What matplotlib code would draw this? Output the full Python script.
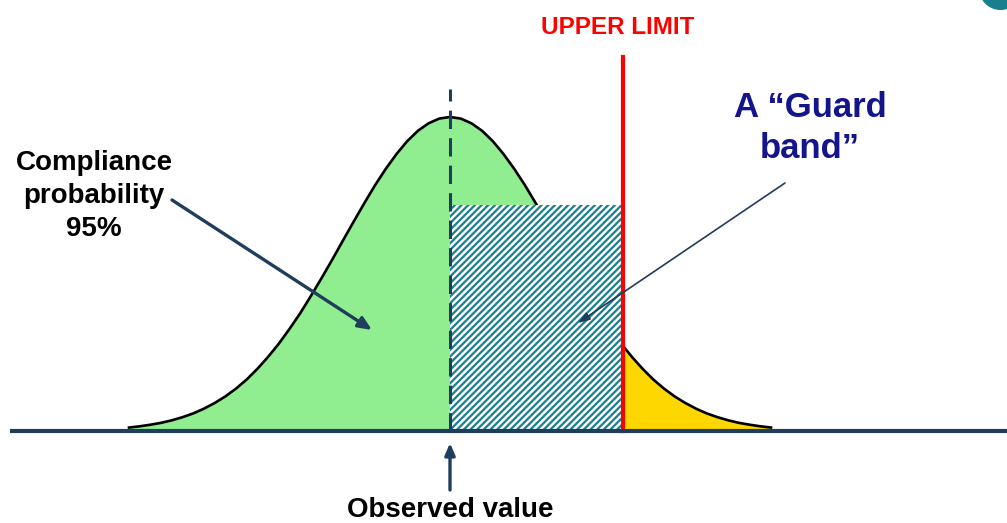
import matplotlib
matplotlib.use('Agg')
import matplotlib.pyplot as plt
from matplotlib.patches import Rectangle

plt.rcParams['font.family'] = ['Liberation Sans', 'DejaVu Sans']
plt.rcParams['hatch.linewidth'] = 1.6

# curve: position in sigma units, height relative to peak
z = [-3.0, -2.9, -2.8, -2.7, -2.6, -2.5, -2.4, -2.3, -2.2, -2.1, -2.0,
     -1.9, -1.8, -1.7, -1.6, -1.5, -1.4, -1.3, -1.2, -1.1, -1.0,
     -0.9, -0.8, -0.7, -0.6, -0.5, -0.4, -0.3, -0.2, -0.1, 0.0,
     0.1, 0.2, 0.3, 0.4, 0.5, 0.6, 0.7, 0.8, 0.9, 1.0,
     1.1, 1.2, 1.3, 1.4, 1.5, 1.6, 1.7, 1.8, 1.9, 2.0,
     2.1, 2.2, 2.3, 2.4, 2.5, 2.6, 2.7, 2.8, 2.9, 3.0]
density = [0.011, 0.015, 0.020, 0.026, 0.034, 0.044, 0.056, 0.071, 0.089,
           0.110, 0.135, 0.164, 0.198, 0.236, 0.278, 0.325, 0.375, 0.430,
           0.487, 0.546, 0.607, 0.667, 0.726, 0.783, 0.835, 0.882, 0.923,
           0.956, 0.980, 0.995, 1.000, 0.995, 0.980, 0.956, 0.923, 0.882,
           0.835, 0.783, 0.726, 0.667, 0.607, 0.546, 0.487, 0.430, 0.375,
           0.325, 0.278, 0.236, 0.198, 0.164, 0.135, 0.110, 0.089, 0.071,
           0.056, 0.044, 0.034, 0.026, 0.020, 0.015, 0.011]
observed = 0.0
upper_limit = 1.62
guard_height = 0.72
dashed_top = 1.09
limit_top = 1.19

navy = '#1f3d5c'
teal = '#1a7f8c'

W, H = 1007, 523
sigma_px, peak_px = 107, 314
fig = plt.figure(figsize=(W / 100, H / 100), dpi=100)
ax = fig.add_axes([0, 0, 1, 1])
ax.set_xlim(-450 / sigma_px, 557 / sigma_px)
ax.set_ylim(-92 / peak_px, 431 / peak_px)
ax.axis('off')

# green body, yellow tail beyond the limit
ax.fill_between(z, 0, density, color='#90ee90', lw=0, zorder=1)
tail = ax.fill_between(z, 0, density, color='#ffd700', lw=0, zorder=2)
clip = Rectangle((upper_limit, -1), 10, 5, transform=ax.transData)
tail.set_clip_path(clip)
ax.plot(z, density, color='black', lw=1.9, zorder=3)

# guard band
ax.add_patch(Rectangle((observed, 0), upper_limit - observed, guard_height,
                       facecolor='white', edgecolor=teal, lw=0,
                       hatch='/////', zorder=4))

ax.plot([observed, observed], [0, dashed_top], color=navy, lw=2.2,
        dashes=(6, 3), zorder=5)
ax.plot([upper_limit, upper_limit], [0, limit_top], color='#ff0000', lw=3,
        zorder=6)
ax.plot([ax.get_xlim()[0] + 10 / sigma_px, ax.get_xlim()[1]], [0, 0],
        color=navy, lw=3, solid_capstyle='butt', zorder=7)


def fx(px):
    return px / W


def fy(py):
    return 1 - py / H


ax.text(fx(618), fy(27), 'UPPER LIMIT', transform=ax.transAxes, color='#ff0000',
        fontsize=17.5, fontweight='bold', ha='center', va='center')
ax.text(fx(810), fy(128), 'A \u201cGuard\nband\u201d', transform=ax.transAxes,
        color='#14148c', fontsize=25, fontweight='bold', ha='center',
        va='center', linespacing=1.3)
ax.text(fx(94), fy(196), 'Compliance\nprobability\n95%', transform=ax.transAxes,
        color='black', fontsize=20, fontweight='bold', ha='center',
        va='center', linespacing=1.35)
ax.text(fx(450), fy(510), 'Observed value', transform=ax.transAxes,
        color='black', fontsize=20, fontweight='bold', ha='center',
        va='center')

ax.annotate('', xy=(fx(372), fy(330)), xytext=(fx(172), fy(200)),
            xycoords='axes fraction', textcoords='axes fraction',
            arrowprops=dict(arrowstyle='-|>,head_length=0.8,head_width=0.35',
                            color=navy, lw=2.4, shrinkA=0, shrinkB=0),
            zorder=8)
ax.annotate('', xy=(fx(578), fy(323)), xytext=(fx(785), fy(183)),
            xycoords='axes fraction', textcoords='axes fraction',
            arrowprops=dict(arrowstyle='-|>,head_length=0.7,head_width=0.25',
                            color=navy, lw=1.2, shrinkA=0, shrinkB=0),
            zorder=8)
ax.annotate('', xy=(fx(450), fy(443)), xytext=(fx(450), fy(490)),
            xycoords='axes fraction', textcoords='axes fraction',
            arrowprops=dict(arrowstyle='-|>,head_length=0.7,head_width=0.3',
                            color=navy, lw=2.4, shrinkA=0, shrinkB=0),
            zorder=8)

# teal badge cut by the top-right corner
ax.scatter([fx(1000)], [fy(-12)], s=900, color=teal, transform=ax.transAxes,
           clip_on=False, zorder=9)

fig.savefig('out.png', dpi=100)
